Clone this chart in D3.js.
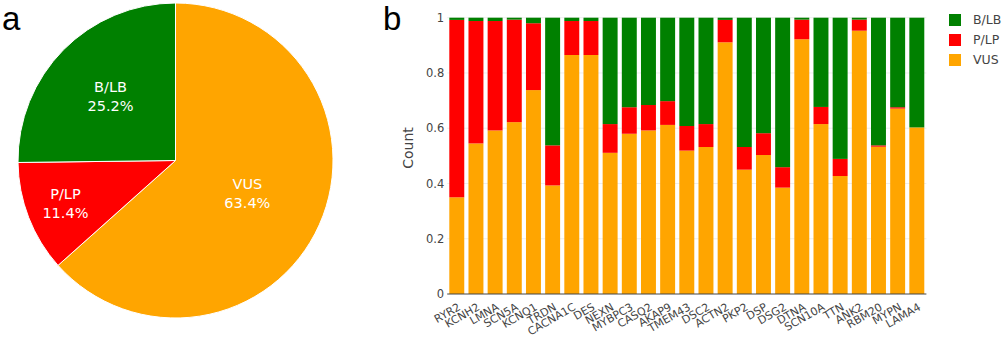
<!DOCTYPE html>
<html>
<head>
<meta charset="utf-8">
<script src="https://cdn.jsdelivr.net/npm/d3@7"></script>
<style>
  body { margin: 0; background: #fff; }
  text { font-family: "DejaVu Sans", Verdana, sans-serif; }
</style>
</head>
<body>
<svg id="chart"></svg>
<script>
// pie data (share of all variants)
const pieLabels = ['VUS', 'P/LP', 'B/LB'];
const pieValues = [63.4, 11.4, 25.2];

// bar data: fraction per gene
const genes = ['RYR2', 'KCNH2', 'LMNA', 'SCN5A', 'KCNQ1', 'TRDN', 'CACNA1C', 'DES', 'NEXN', 'MYBPC3',
  'CASQ2', 'AKAP9', 'TMEM43', 'DSC2', 'ACTN2', 'PKP2', 'DSP', 'DSG2', 'DTNA', 'SCN10A',
  'TTN', 'ANK2', 'RBM20', 'MYPN', 'LAMA4'];
const vus = [0.350, 0.545, 0.592, 0.622, 0.738, 0.393, 0.865, 0.865, 0.511, 0.580,
  0.592, 0.612, 0.519, 0.532, 0.911, 0.450, 0.503, 0.385, 0.922, 0.615,
  0.427, 0.953, 0.533, 0.671, 0.603];
const plp = [0.642, 0.443, 0.396, 0.371, 0.242, 0.145, 0.123, 0.123, 0.104, 0.096,
  0.092, 0.086, 0.089, 0.083, 0.081, 0.082, 0.079, 0.074, 0.071, 0.062,
  0.062, 0.040, 0.005, 0.005, 0.000];
const yTicks = [0, 0.2, 0.4, 0.6, 0.8, 1];

const colors = { 'VUS': '#ffa500', 'P/LP': '#ff0000', 'B/LB': '#008000' };

const width = 1003;
const height = 340;

const svg = d3.select('#chart')
  .attr('width', width)
  .attr('height', height);

// panel letters
svg.append('text').text('a')
  .attr('x', 2).attr('y', 29.5)
  .style('font-family', '"Liberation Sans Narrow", "Liberation Sans", sans-serif')
  .style('font-size', '33px');
svg.append('text').text('b')
  .attr('x', 383).attr('y', 29.5)
  .style('font-family', '"Liberation Sans Narrow", "Liberation Sans", sans-serif')
  .style('font-size', '33px');

// ---- pie ----
const cx = 175.5, cy = 160.5, r = 157.5;
const pieData = pieLabels.map((l, i) => ({ label: l, value: pieValues[i] }));
const arcs = d3.pie().sort(null).value(d => d.value)(pieData);
const arc = d3.arc().innerRadius(0).outerRadius(r);
const labelPos = [0.5, 0.75, 0.58]; // fraction of radius for text

const pie = svg.append('g').attr('transform', `translate(${cx}, ${cy})`);
pie.selectAll('path')
  .data(arcs)
  .enter()
  .append('path')
  .attr('d', arc)
  .attr('fill', d => colors[d.data.label])
  .attr('stroke', '#fff')
  .attr('stroke-width', 1);

arcs.forEach((a, i) => {
  const mid = (a.startAngle + a.endAngle) / 2;
  const rr = r * labelPos[i];
  const x = Math.sin(mid) * rr;
  const y = -Math.cos(mid) * rr;
  const t = pie.append('text')
    .attr('text-anchor', 'middle')
    .attr('fill', '#fff')
    .style('font-size', '14.5px');
  t.append('tspan').attr('x', x).attr('y', y - 4).text(a.data.label);
  t.append('tspan').attr('x', x).attr('y', y + 15).text(a.data.value.toFixed(1) + '%');
});

// ---- stacked bars ----
const plot = { left: 447.2, right: 926.4, top: 17.7, bottom: 294 };

const xScale = d3.scaleBand()
  .domain(genes)
  .range([plot.left, plot.right])
  .paddingInner(0.22)
  .paddingOuter(0.11);

const yScale = d3.scaleLinear()
  .domain([0, 1])
  .range([plot.bottom, plot.top]);

// grid
svg.append('g')
  .selectAll('line')
  .data(yTicks.filter(d => d > 0))
  .enter()
  .append('line')
  .attr('x1', plot.left).attr('x2', plot.right)
  .attr('y1', d => yScale(d)).attr('y2', d => yScale(d))
  .attr('stroke', '#eee');

const rows = genes.map((g, i) => ({
  gene: g,
  'VUS': vus[i],
  'P/LP': plp[i],
  'B/LB': Math.max(0, 1 - vus[i] - plp[i])
}));
const stack = d3.stack().keys(['VUS', 'P/LP', 'B/LB'])(rows);

svg.append('g')
  .selectAll('g')
  .data(stack)
  .enter()
  .append('g')
  .attr('fill', d => colors[d.key])
  .selectAll('rect')
  .data(d => d)
  .enter()
  .append('rect')
  .attr('x', d => xScale(d.data.gene))
  .attr('width', xScale.bandwidth())
  .attr('y', d => yScale(d[1]))
  .attr('height', d => yScale(d[0]) - yScale(d[1]));

// y axis
const yAxis = d3.axisLeft(yScale)
  .tickValues(yTicks)
  .tickFormat(d3.format('~g'))
  .tickSize(0)
  .tickPadding(3);

const yax = svg.append('g')
  .attr('transform', `translate(${plot.left}, 0)`)
  .call(yAxis);
yax.select('.domain').remove();
yax.selectAll('text')
  .attr('fill', '#444')
  .style('font-family', '"DejaVu Sans", Verdana, sans-serif')
  .style('font-size', '11.5px');

// x axis line
svg.append('line')
  .attr('x1', plot.left).attr('x2', plot.right)
  .attr('y1', plot.bottom).attr('y2', plot.bottom)
  .attr('stroke', '#444')
  .attr('stroke-width', 1);

// x labels
svg.append('g')
  .selectAll('text')
  .data(genes)
  .enter()
  .append('text')
  .text(d => d)
  .attr('text-anchor', 'end')
  .attr('dy', '0.75em')
  .attr('transform', d => `translate(${xScale(d) + xScale.bandwidth() / 2 + 0.5}, 302) rotate(-30)`)
  .attr('fill', '#444')
  .style('font-size', '11px');

// y title
svg.append('text')
  .text('Count')
  .attr('text-anchor', 'middle')
  .attr('transform', 'translate(413, 148) rotate(-90)')
  .attr('fill', '#444')
  .style('font-size', '14px');

// legend
const legend = svg.append('g')
  .selectAll('g')
  .data(['B/LB', 'P/LP', 'VUS'])
  .enter()
  .append('g')
  .attr('transform', (d, i) => `translate(949, ${14 + i * 20})`);
legend.append('rect')
  .attr('width', 12).attr('height', 12)
  .attr('fill', d => colors[d]);
legend.append('text')
  .text(d => d)
  .attr('x', 24).attr('y', 6)
  .attr('dy', '0.35em')
  .attr('fill', '#444')
  .style('font-size', '12.5px');
</script>
</body>
</html>
